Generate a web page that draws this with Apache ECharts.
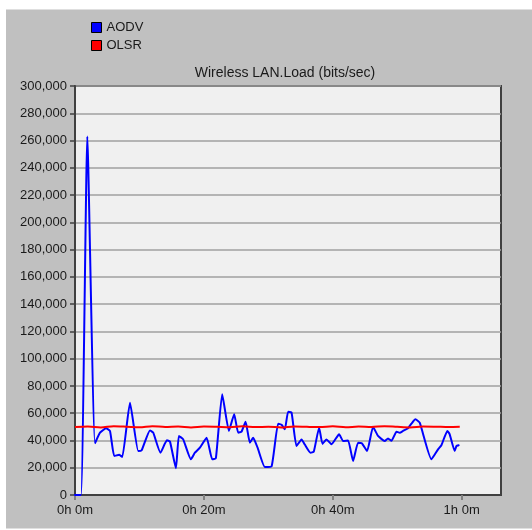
<!DOCTYPE html>
<html>
<head>
<meta charset="utf-8">
<script src="https://cdn.jsdelivr.net/npm/echarts@6/dist/echarts.min.js"></script>
<style>
  html, body { margin: 0; padding: 0; background: #ffffff; }
  #chart { width: 532px; height: 530px; }
</style>
</head>
<body>
<div id="chart"></div>
<script>
// time in minutes, load in bits/sec
const aodvTime = [0, 0.93, 1.91, 3.10, 3.88, 4.81, 5.43, 6.09, 6.87, 7.33, 8.53, 9.81, 10.34, 11.63, 12.14,
  13.26, 14.26, 14.73, 15.66, 16.12, 16.79, 17.98, 18.60, 19.38, 20.42, 21.29, 21.86, 22.84, 23.88, 24.70,
  25.32, 25.84, 26.47, 27.13, 27.64, 28.33, 29.46, 30.50, 31.52, 32.05, 32.56, 33.07, 33.60, 34.37, 35.15,
  35.66, 36.54, 37.05, 37.88, 38.40, 39.02, 39.80, 40.98, 41.60, 42.37, 43.15, 43.92, 44.50, 45.32, 46.25,
  47.02, 48.06, 48.57, 49.10, 49.88, 50.39, 50.90, 51.67, 52.20, 52.82, 53.49, 55.30, 56.33, 56.85, 57.78,
  58.14, 58.91, 59.18, 59.53];
const aodvLoad = [0, 0, 263000, 38000, 45700, 48900, 47000, 28600, 29500, 27900, 67700, 32300, 32800, 47400, 45700,
  31000, 40100, 39300, 19600, 43300, 40800, 26200, 31000, 34700, 42000, 26200, 27000, 73900, 47000, 59200,
  45700, 46500, 53800, 38400, 42000, 34700, 20500, 21000, 52300, 51500, 48200, 61100, 60500, 35900, 40800,
  37000, 31000, 31800, 49400, 37500, 40800, 37200, 44500, 39600, 40000, 24900, 38400, 38000, 32300, 49900,
  43300, 39600, 41500, 39800, 46400, 45700, 47000, 49000, 52300, 55500, 53000, 26200, 33500, 36500, 47000,
  44500, 32300, 35900, 36500];

const olsrTime = [0, 2, 4, 6, 8, 10, 12, 14, 16, 18, 20, 22, 24, 26, 28, 30, 32, 34, 36, 38, 40,
  42, 44, 46, 48, 50, 52, 54, 56, 58, 59.7];
const olsrLoad = [49800, 50200, 49600, 50400, 50100, 49700, 50500, 49900, 50300, 49600, 50200, 50000, 49700,
  50400, 49800, 50100, 49500, 50300, 50000, 49800, 50400, 49700, 50200, 49900, 50500, 50000, 49600, 50300,
  50100, 49800, 50000];

const chart = echarts.init(document.getElementById('chart'));

const fmtTime = v => Math.floor(v / 60) + 'h ' + Math.round(v % 60) + 'm';
const textFont = { fontFamily: 'Liberation Sans', fontSize: 13, color: '#1a1a1a' };

chart.setOption({
  animation: false,
  backgroundColor: '#ffffff',
  graphic: [{
    type: 'rect',
    z: -10,
    shape: { x: 6, y: 9.5, width: 526, height: 519 },
    style: { fill: '#c0c0c0' }
  }],
  title: {
    text: 'Wireless LAN.Load (bits/sec)',
    left: 285,
    top: 66,
    padding: 0,
    textAlign: 'center',
    textStyle: Object.assign({}, textFont, { fontWeight: 'normal', fontSize: 14 })
  },
  legend: {
    orient: 'vertical',
    left: 91,
    top: 21,
    padding: 0,
    itemWidth: 10,
    itemHeight: 10,
    itemGap: 5,
    icon: 'rect',
    itemStyle: { borderColor: '#000', borderWidth: 1 },
    textStyle: textFont,
    data: ['AODV', 'OLSR']
  },
  grid: {
    left: 75,
    right: 31,
    top: 86,
    bottom: 35,
    show: true,
    backgroundColor: '#f0f0f0',
    borderColor: '#404040',
    borderWidth: 2
  },
  xAxis: {
    type: 'value',
    min: 0,
    max: 66.1,
    interval: 20,
    axisLine: { lineStyle: { color: '#404040', width: 2 } },
    axisTick: { length: 5, lineStyle: { color: '#808080', width: 2 } },
    axisLabel: Object.assign({ formatter: fmtTime, margin: 9, showMaxLabel: false }, textFont),
    splitLine: { show: false }
  },
  yAxis: {
    type: 'value',
    min: 0,
    max: 300000,
    interval: 20000,
    axisLine: { show: true, lineStyle: { color: '#404040', width: 2 } },
    axisTick: { show: true, length: 5, lineStyle: { color: '#404040', width: 1.5 } },
    axisLabel: Object.assign({ formatter: v => v.toLocaleString('en-US'), margin: 8 }, textFont),
    splitLine: { lineStyle: { color: '#a0a0a0', width: 1.5 } }
  },
  series: [
    {
      name: 'AODV',
      type: 'line',
      smooth: 0.15,
      showSymbol: false,
      color: '#0000ff',
      lineStyle: { width: 2, join: 'round', cap: 'round' },
      data: aodvTime.map((t, i) => [t, aodvLoad[i]])
    },
    {
      name: 'OLSR',
      type: 'line',
      smooth: 0.3,
      showSymbol: false,
      color: '#ff0000',
      lineStyle: { width: 2 },
      data: olsrTime.map((t, i) => [t, olsrLoad[i]])
    }
  ]
});
</script>
</body>
</html>
